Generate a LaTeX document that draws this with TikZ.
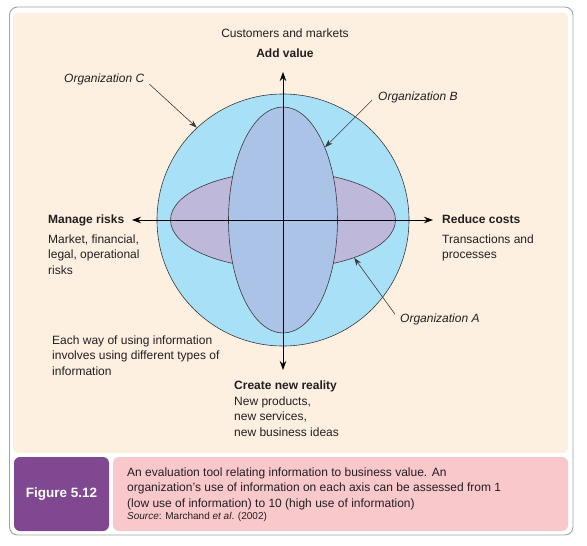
\documentclass[tikz,border=0pt]{standalone}
\usepackage{fontspec}
\setmainfont{Liberation Sans}
\usetikzlibrary{arrows.meta, positioning, shapes.geometric}
\definecolor{FrameGray}{HTML}{A3A3A3}
\definecolor{PanelPeach}{HTML}{FDF0E1}
\definecolor{GlobeBlue}{HTML}{A8E0F8}
\definecolor{OrgBBlue}{HTML}{AAC3E6}
\definecolor{OrgALilac}{HTML}{BEB8DA}
\definecolor{FigPurple}{HTML}{7F4890}
\definecolor{CapPink}{HTML}{F9C8CB}
\definecolor{TextBlack}{HTML}{231F20}
\definecolor{EdgeGray}{HTML}{3A3A3A}
\tikzset{
  lbl/.style={inner sep=0pt, align=left, text=TextBlack, font=\fontsize{12}{15.5}\selectfont},
  headlbl/.style={lbl, font=\fontsize{12}{15.5}\selectfont\bfseries},
  orglbl/.style={lbl, font=\fontsize{12}{15.5}\selectfont\itshape},
  shapeedge/.style={draw=EdgeGray, line width=0.6pt},
  axisarrow/.style={-{Stealth[length=9pt, width=6.5pt]}, line width=0.8pt, draw=black},
  orgarrow/.style={-{Stealth[length=8pt, width=5.5pt]}, line width=0.6pt, draw=EdgeGray}
}

\begin{document}
\begin{tikzpicture}[x=1pt, y=-1pt]
\useasboundingbox (0,0) rectangle (587,546);
\fill[white] (0,0) rectangle (587,546);

% frame and panels
\draw[draw=FrameGray, line width=0.9pt, rounded corners=8pt] (9.5,7) rectangle (573,535);
\fill[PanelPeach, rounded corners=6pt] (13,12.5) rectangle (568,453);
\node[fill=FigPurple, rounded corners=6pt, minimum width=95pt, minimum height=74pt, inner sep=0pt,
  text=white, font=\fontsize{13.5}{16}\selectfont\bfseries] (figno) at (61.5,494) {Figure 5.12};
\node[fill=CapPink, rounded corners=6pt, minimum width=455pt, minimum height=74pt, inner sep=0pt] (capbox) at (340.5,494) {};
% base anchor of a multi-line node sits on its last line
\node[lbl, anchor=base west] (captext) at (127,507.3) {An evaluation tool relating information to business value. An\\
organization's use of information on each axis can be assessed from 1\\
(low use of information) to 10 (high use of information)};
\node[lbl, anchor=base west, font=\fontsize{10}{12}\selectfont] (capsrc) at (127,519.6) {\textit{Source}: Marchand \textit{et al}. (2002)};

% globe and organizations
\node[circle, shapeedge, fill=GlobeBlue, minimum size=252pt, inner sep=0pt] (globe) at (283,220) {};
\node[ellipse, shapeedge, fill=OrgALilac, minimum width=225pt, minimum height=97pt, inner sep=0pt] (orga) at (283,220) {};
\node[ellipse, shapeedge, fill=OrgBBlue, minimum width=109pt, minimum height=226pt, inner sep=0pt] (orgb) at (283,220) {};

% axes
\coordinate (hub) at (283,220);
\coordinate (tipN) at (283,72);
\coordinate (tipS) at (283,370);
\coordinate (tipW) at (132,220);
\coordinate (tipE) at (433,220);
\draw[axisarrow] (hub) -- (tipN);
\draw[axisarrow] (hub) -- (tipS);
\draw[axisarrow] (hub) -- (tipW);
\draw[axisarrow] (hub) -- (tipE);

% axis labels
\node[lbl, anchor=base] (market) at (285,37.3) {Customers and markets};
\node[headlbl, anchor=base] (addval) at (285,57.3) {Add value};
\node[headlbl, anchor=base west] (risk) at (48,223.3) {Manage risks};
\node[lbl, anchor=base west] (riskinfo) at (48,274.3) {Market, financial,\\legal, operational\\risks};
\node[headlbl, anchor=base west] (cost) at (442,223.3) {Reduce costs};
\node[lbl, anchor=base west] (costinfo) at (442,258.8) {Transactions and\\processes};
\node[headlbl, anchor=base west] (reality) at (234,389.3) {Create new reality};
\node[lbl, anchor=base west] (realinfo) at (234,436.3) {New products,\\new services,\\new business ideas};
\node[lbl, anchor=base west] (note) at (52,375.3) {Each way of using information\\involves using different types of\\information};

% organization labels
\node[orglbl, anchor=base west] (orgcl) at (64,82.3) {Organization C};
\node[orglbl, anchor=base west] (orgbl) at (378,100.3) {Organization B};
\node[orglbl, anchor=base west] (orgal) at (400,322.3) {Organization A};
\draw[orgarrow] ([shift={(5,5)}]orgcl.east) -- (globe.133);
\draw[orgarrow] ([shift={(-6,3)}]orgbl.west) -- (orgb.60);
\draw[orgarrow] ([shift={(-5,-5)}]orgal.west) -- (orga.-28);
\end{tikzpicture}
\end{document}
